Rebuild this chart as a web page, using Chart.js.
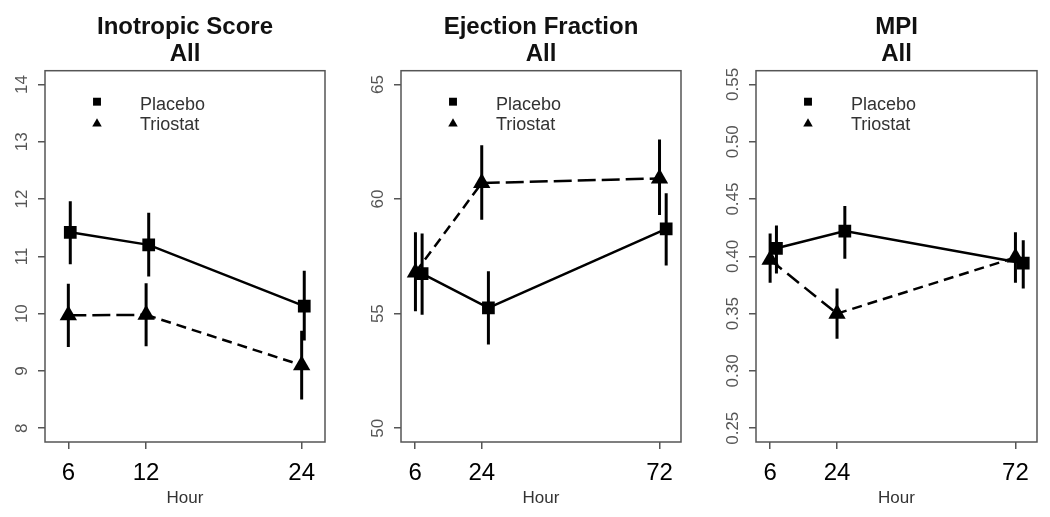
<!DOCTYPE html>
<html>
<head>
<meta charset="utf-8">
<script src="https://cdn.jsdelivr.net/npm/chart.js@4.4.1/dist/chart.umd.min.js"></script>
<style>
  html, body { margin: 0; padding: 0; background: #fff; }
  #wrap { position: relative; width: 1050px; height: 517px; }
  canvas { position: absolute; top: 0; }
</style>
</head>
<body>
<div id="wrap">
  <canvas id="c1" width="350" height="517" style="left:0"></canvas>
  <canvas id="c2" width="350" height="517" style="left:350px"></canvas>
  <canvas id="c3" width="350" height="517" style="left:700px"></canvas>
</div>
<script>
// ===============================
// DATA
// ===============================
const seriesNames = ["Placebo", "Triostat"];

// Inotropic score
const inoXTicks = [6, 12, 24];
const inoYTicks = [8, 9, 10, 11, 12, 13, 14];
const inoTriostatHours = [6, 12, 24];
const inoPlaceboHours = [6.15, 12.2, 24.2];
const inoPlacebo = [11.42, 11.2, 10.13];
const inoPlaceboLow = [10.86, 10.65, 9.53];
const inoPlaceboHigh = [11.96, 11.76, 10.75];
const inoTriostat = [9.97, 9.98, 9.1];
const inoTriostatLow = [9.42, 9.43, 8.5];
const inoTriostatHigh = [10.52, 10.53, 9.7];

// Ejection fraction
const ejeXTicks = [6, 24, 72];
const ejeYTicks = [50, 55, 60, 65];
const ejeTriostatHours = [6.1, 24, 72];
const ejePlaceboHours = [7.9, 25.8, 73.8];
const ejePlacebo = [56.75, 55.25, 58.7];
const ejePlaceboLow = [54.95, 53.65, 57.1];
const ejePlaceboHigh = [58.5, 56.85, 60.25];
const ejeTriostat = [56.8, 60.7, 60.9];
const ejeTriostatLow = [55.1, 59.1, 59.3];
const ejeTriostatHigh = [58.55, 62.35, 62.6];

// MPI
const mpiXTicks = [6, 24, 72];
const mpiYTicks = [0.25, 0.30, 0.35, 0.40, 0.45, 0.50, 0.55];
const mpiTriostatHours = [6, 24, 72];
const mpiPlaceboHours = [7.7, 26.1, 74.1];
const mpiPlacebo = [0.407, 0.422, 0.394];
const mpiPlaceboLow = [0.385, 0.398, 0.372];
const mpiPlaceboHigh = [0.427, 0.444, 0.414];
const mpiTriostat = [0.397, 0.35, 0.399];
const mpiTriostatLow = [0.377, 0.328, 0.377];
const mpiTriostatHigh = [0.42, 0.372, 0.421];

// ===============================
// PANELS
// ===============================
const FONT = "'Liberation Sans', Arial, sans-serif";

const panels = [
  { id: "c1", title: ["Inotropic Score", "All"],
    xTicks: inoXTicks, yTicks: inoYTicks, decimals: 0,
    xMin: 4.2, xMax: 25.8, yMin: 7.76, yMax: 14.24,
    pHours: inoPlaceboHours, p: inoPlacebo, pLo: inoPlaceboLow, pHi: inoPlaceboHigh,
    tHours: inoTriostatHours, t: inoTriostat, tLo: inoTriostatLow, tHi: inoTriostatHigh,
    axisWidth: 45, rightPad: 25, dashes: [[18, 6], [10, 6]] },
  { id: "c2", title: ["Ejection Fraction", "All"],
    xTicks: ejeXTicks, yTicks: ejeYTicks, decimals: 0,
    xMin: 2.2, xMax: 77.8, yMin: 49.4, yMax: 65.6,
    pHours: ejePlaceboHours, p: ejePlacebo, pLo: ejePlaceboLow, pHi: ejePlaceboHigh,
    tHours: ejeTriostatHours, t: ejeTriostat, tLo: ejeTriostatLow, tHi: ejeTriostatHigh,
    axisWidth: 51, rightPad: 19, dashes: [[10, 6], [18, 6]] },
  { id: "c3", title: ["MPI", "All"],
    xTicks: mpiXTicks, yTicks: mpiYTicks, decimals: 2,
    xMin: 2.2, xMax: 77.8, yMin: 0.238, yMax: 0.562,
    pHours: mpiPlaceboHours, p: mpiPlacebo, pLo: mpiPlaceboLow, pHi: mpiPlaceboHigh,
    tHours: mpiTriostatHours, t: mpiTriostat, tLo: mpiTriostatLow, tHi: mpiTriostatHigh,
    axisWidth: 56, rightPad: 13, dashes: [[15, 7], [10, 6]] }
];

// box, rotated y labels and the little legend, R style
const rFrame = {
  id: "rFrame",
  afterDatasetsDraw(chart, args, o) {
    const { ctx, chartArea: a } = chart;
    const y = chart.scales.y;
    ctx.save();

    ctx.strokeStyle = "#555";
    ctx.lineWidth = 1.5;
    ctx.strokeRect(a.left, a.top, a.right - a.left, a.bottom - a.top);

    ctx.fillStyle = "#555";
    ctx.font = "17px " + FONT;
    ctx.textAlign = "center";
    ctx.textBaseline = "middle";
    y.ticks.forEach(t => {
      ctx.save();
      ctx.translate(a.left - 23, y.getPixelForValue(t.value));
      ctx.rotate(-Math.PI / 2);
      ctx.fillText(t.value.toFixed(o.decimals), 0, 0);
      ctx.restore();
    });

    // legend
    const mx = a.left + 52, tx = a.left + 95;
    ctx.fillStyle = "#000";
    Chart.helpers.drawPoint(ctx, { pointStyle: "rect", radius: 5.6, borderWidth: 0 }, mx, a.top + 31);
    Chart.helpers.drawPoint(ctx, { pointStyle: "triangle", radius: 5.5, borderWidth: 0 }, mx, a.top + 53);
    ctx.fillStyle = "#333";
    ctx.font = "18px " + FONT;
    ctx.textAlign = "left";
    ctx.fillText(seriesNames[0], tx, a.top + 34);
    ctx.fillText(seriesNames[1], tx, a.top + 54);
    ctx.restore();
  }
};

function errorBars(hours, lo, hi) {
  return hours.map((h, i) => ({
    data: [{ x: h, y: lo[i] }, { x: h, y: hi[i] }],
    borderColor: "#000",
    borderWidth: 3,
    pointRadius: 0
  }));
}

function makeChart(p) {
  const placebo = p.pHours.map((h, i) => ({ x: h, y: p.p[i] }));
  const triostat = p.tHours.map((h, i) => ({ x: h, y: p.t[i] }));

  new Chart(document.getElementById(p.id), {
    type: "line",
    data: {
      datasets: [
        ...errorBars(p.pHours, p.pLo, p.pHi),
        ...errorBars(p.tHours, p.tLo, p.tHi),
        {
          label: seriesNames[0],
          data: placebo,
          borderColor: "#000",
          borderWidth: 2.5,
          pointStyle: "rect",
          pointRadius: 9,
          pointBackgroundColor: "#000",
          pointBorderWidth: 0
        },
        {
          label: seriesNames[1],
          data: triostat,
          borderColor: "#000",
          borderWidth: 2.5,
          segment: { borderDash: c => p.dashes[c.p0DataIndex] },
          pointStyle: "triangle",
          pointRadius: 10,
          pointBackgroundColor: "#000",
          pointBorderWidth: 0
        }
      ]
    },
    options: {
      responsive: false,
      animation: false,
      devicePixelRatio: 1,
      layout: { padding: { left: 0, right: p.rightPad, top: 0, bottom: 0 } },
      plugins: {
        legend: { display: false },
        tooltip: { enabled: false },
        title: {
          display: true,
          text: p.title,
          fullSize: false,
          color: "#111",
          font: { family: FONT, size: 24, weight: "bold", lineHeight: "26.7px" },
          padding: { top: 14, bottom: 3.3 }
        },
        rFrame: { decimals: p.decimals }
      },
      scales: {
        x: {
          type: "linear",
          min: p.xMin,
          max: p.xMax,
          afterBuildTicks: s => { s.ticks = p.xTicks.map(v => ({ value: v })); },
          afterFit: s => { s.height = 75; },
          ticks: {
            autoSkip: false,
            color: "#000",
            padding: 10,
            font: { family: FONT, size: 24 },
            callback: v => String(v)
          },
          grid: { drawOnChartArea: false, tickLength: 7, color: "#555", lineWidth: 1.5 },
          border: { display: false },
          title: {
            display: true,
            text: "Hour",
            color: "#333",
            font: { family: FONT, size: 17 },
            padding: { top: 0, bottom: 8 }
          }
        },
        y: {
          min: p.yMin,
          max: p.yMax,
          afterBuildTicks: s => { s.ticks = p.yTicks.map(v => ({ value: v })); },
          afterFit: s => { s.width = p.axisWidth; },
          ticks: { display: false },
          grid: { drawOnChartArea: false, tickLength: 7, color: "#555", lineWidth: 1.5 },
          border: { display: false }
        }
      }
    },
    plugins: [rFrame]
  });
}

panels.forEach(makeChart);
</script>
</body>
</html>
